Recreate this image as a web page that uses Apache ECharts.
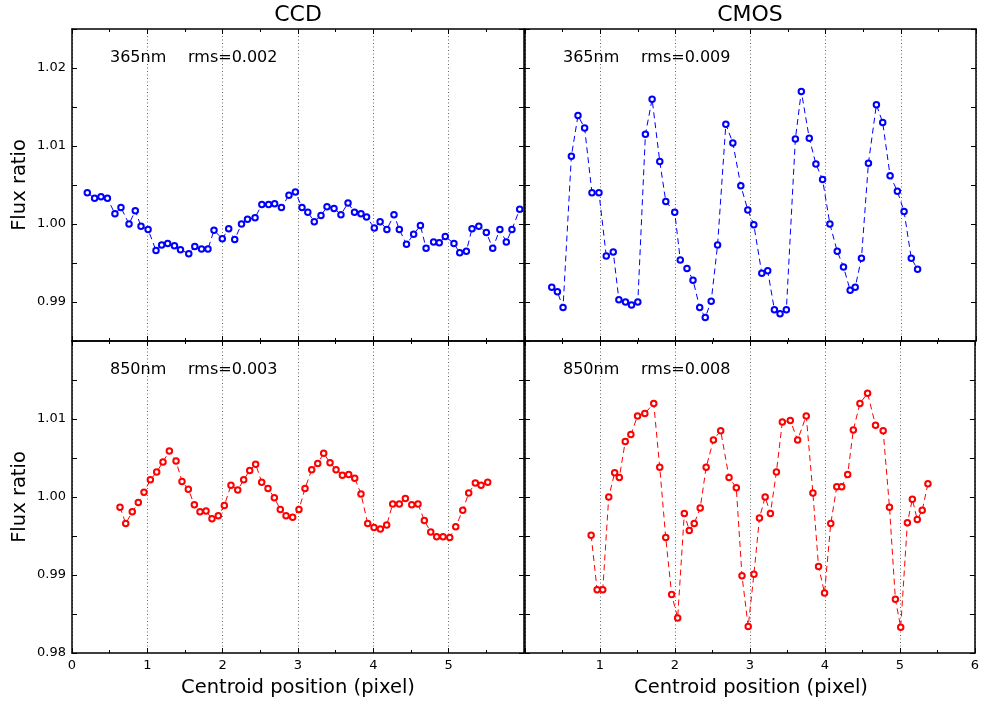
<!DOCTYPE html>
<html>
<head>
<meta charset="utf-8">
<script src="https://cdn.jsdelivr.net/npm/echarts@6/dist/echarts.min.js"></script>
<style>
  html, body { margin: 0; padding: 0; background: #fff; }
  #chart { width: 982px; height: 704px; }
</style>
</head>
<body>
<div id="chart"></div>
<script>
// CCD 365nm
var ccd365X = [0.203,0.30,0.385,0.47,0.57,0.65,0.757,0.84,0.916,1.01,1.115,1.19,1.27,1.36,1.44,1.55,1.63,1.72,1.805,1.885,1.995,2.08,2.16,2.25,2.33,2.43,2.52,2.61,2.69,2.78,2.88,2.965,3.053,3.13,3.216,3.305,3.385,3.478,3.57,3.664,3.75,3.836,3.91,4.013,4.09,4.18,4.274,4.345,4.44,4.535,4.625,4.70,4.80,4.875,4.955,5.07,5.147,5.235,5.31,5.40,5.50,5.585,5.68,5.765,5.84,5.943,6.03];
var ccd365Y = [1.0040,1.0033,1.0035,1.0033,1.0013,1.0021,1.0000,1.0017,0.9997,0.9993,0.9966,0.9973,0.9975,0.9972,0.9967,0.9962,0.9971,0.9968,0.9968,0.9992,0.9981,0.9994,0.9980,1.0000,1.0006,1.0008,1.0025,1.0025,1.0026,1.0021,1.0037,1.0041,1.0021,1.0015,1.0003,1.0011,1.0022,1.0020,1.0012,1.0027,1.0015,1.0013,1.0009,0.9995,1.0003,0.9993,1.0012,0.9993,0.9974,0.9987,0.9998,0.9969,0.9977,0.9976,0.9984,0.9975,0.9963,0.9965,0.9994,0.9997,0.9989,0.9969,0.9993,0.9977,0.9993,1.0019,1.0012];

// CMOS 365nm
var cmos365X = [0.356,0.431,0.506,0.617,0.705,0.793,0.891,0.984,1.081,1.174,1.249,1.337,1.417,1.501,1.602,1.691,1.793,1.873,1.992,2.066,2.155,2.235,2.324,2.398,2.477,2.562,2.672,2.765,2.871,2.964,3.044,3.150,3.229,3.318,3.393,3.477,3.597,3.676,3.782,3.870,3.959,4.056,4.154,4.237,4.326,4.393,4.476,4.569,4.675,4.759,4.857,4.954,5.043,5.139,5.223];
var cmos365Y = [0.9919,0.9913,0.9893,1.0087,1.0139,1.0123,1.0040,1.0040,0.9959,0.9964,0.9903,0.9900,0.9896,0.9900,1.0115,1.0160,1.0080,1.0029,1.0015,0.9954,0.9943,0.9928,0.9893,0.9880,0.9901,0.9973,1.0128,1.0104,1.0049,1.0018,0.9999,0.9937,0.9940,0.9890,0.9885,0.9890,1.0109,1.0170,1.0110,1.0077,1.0057,1.0000,0.9965,0.9945,0.9915,0.9919,0.9956,1.0078,1.0153,1.0130,1.0062,1.0042,1.0016,0.9956,0.9942];

// CCD 850nm
var ccd850X = [0.637,0.713,0.80,0.880,0.956,1.04,1.124,1.208,1.292,1.381,1.46,1.544,1.624,1.699,1.779,1.858,1.942,2.022,2.11,2.2,2.279,2.359,2.438,2.518,2.602,2.686,2.765,2.841,2.929,3.013,3.093,3.182,3.262,3.341,3.425,3.505,3.589,3.673,3.753,3.836,3.925,4.009,4.093,4.177,4.257,4.345,4.425,4.51,4.593,4.677,4.762,4.841,4.925,5.014,5.094,5.187,5.266,5.354,5.43,5.518];
var ccd850Y = [0.9987,0.9966,0.9981,0.9993,1.0006,1.0022,1.0032,1.0045,1.0059,1.0046,1.0020,1.0010,0.9990,0.9981,0.9982,0.9972,0.9976,0.9989,1.0015,1.0009,1.0022,1.0034,1.0042,1.0019,1.0011,0.9999,0.9984,0.9976,0.9974,0.9984,1.0011,1.0035,1.0043,1.0056,1.0044,1.0035,1.0028,1.0029,1.0024,1.0004,0.9966,0.9961,0.9959,0.9964,0.9991,0.9991,0.9998,0.9990,0.9991,0.9970,0.9955,0.9949,0.9949,0.9948,0.9962,0.9983,1.0005,1.0018,1.0015,1.0019];

// CMOS 850nm
var cmos850X = [0.882,0.962,1.037,1.117,1.196,1.258,1.337,1.412,1.501,1.598,1.717,1.797,1.877,1.956,2.036,2.125,2.191,2.257,2.337,2.416,2.513,2.61,2.721,2.818,2.894,2.977,3.053,3.127,3.203,3.273,3.353,3.432,3.538,3.636,3.751,3.84,3.915,3.995,4.078,4.158,4.224,4.304,4.379,4.467,4.569,4.675,4.777,4.861,4.94,5.011,5.1,5.166,5.232,5.298,5.374];
var cmos850Y = [0.9951,0.9881,0.9881,1.0000,1.0031,1.0025,1.0071,1.0080,1.0104,1.0107,1.0120,1.0038,0.9948,0.9875,0.9845,0.9979,0.9957,0.9966,0.9986,1.0038,1.0073,1.0085,1.0025,1.0012,0.9899,0.9834,0.9901,0.9973,1.0000,0.9979,1.0032,1.0096,1.0098,1.0073,1.0104,1.0005,0.9911,0.9877,0.9966,1.0013,1.0013,1.0029,1.0086,1.0120,1.0133,1.0092,1.0085,0.9987,0.9869,0.9833,0.9967,0.9997,0.9971,0.9983,1.0017];

var columnTitles = ['CCD', 'CMOS'];
var waveLabels = ['365nm', '850nm'];
var rmsLabels = [['rms=0.002', 'rms=0.009'], ['rms=0.003', 'rms=0.008']];
var xTitle = 'Centroid position (pixel)';
var yTitle = 'Flux ratio';

var FONT = 'DejaVu Sans';
var BLUE = '#0000ff';
var RED = '#ff0000';

function pairs(xs, ys) {
    return xs.map(function (x, i) { return [x, ys[i]]; });
}

// panel boxes: [left, top, width, height]
var boxes = [
    [72, 29, 452, 312],
    [525, 29, 451, 312],
    [72, 341, 452, 312],
    [525, 341, 451, 312]
];
var yRanges = [[0.985, 1.025], [0.985, 1.025], [0.98, 1.02], [0.98, 1.02]];

var grids = [], xAxes = [], yAxes = [];
boxes.forEach(function (b, i) {
    var isBottom = i >= 2;
    var isLeft = i % 2 === 0;
    grids.push({ left: b[0], top: b[1], width: b[2], height: b[3], containLabel: false });

    var axisLine = { show: true, onZero: false, lineStyle: { color: '#000', width: 1.5 } };
    // bottom x axis (with grid lines)
    xAxes.push({
        type: 'value', gridIndex: i, position: 'bottom', min: 0, max: 6, interval: 1,
        axisLine: axisLine,
        axisTick: { show: true, inside: true, length: 5, lineStyle: { color: '#000' } },
        minorTick: { show: true, splitNumber: 2, length: 3, lineStyle: { color: '#000' } },
        splitLine: { show: true, lineStyle: { type: [1, 2.5], color: '#666', width: 1 } },
        axisLabel: {
            show: isBottom, fontFamily: FONT, fontSize: 13, color: '#000', margin: 6, hideOverlap: false,
            showMinLabel: true, showMaxLabel: true,
            formatter: function (v) {
                if (isLeft && v === 6) return '';
                if (!isLeft && v === 0) return '';
                return String(v);
            }
        }
    });
    // top x axis (ticks only)
    xAxes.push({
        type: 'value', gridIndex: i, position: 'top', min: 0, max: 6, interval: 1,
        axisLine: axisLine,
        axisTick: { show: true, inside: true, length: 5, lineStyle: { color: '#000' } },
        minorTick: { show: true, splitNumber: 2, length: 3, lineStyle: { color: '#000' } },
        splitLine: { show: false },
        axisLabel: { show: false }
    });
    var yr = yRanges[i];
    var yLabelFmt = function (v) {
        var k = Math.round(v * 1000);
        if (k % 10 !== 0) return '';
        if (isBottom && k === 1020) return '';
        return (k / 1000).toFixed(2);
    };
    yAxes.push({
        type: 'value', gridIndex: i, position: 'left', min: yr[0], max: yr[1], interval: 0.005,
        axisLine: axisLine,
        axisTick: { show: true, inside: true, length: 5, lineStyle: { color: '#000' } },
        splitLine: { show: false },
        axisLabel: {
            show: isLeft, fontFamily: FONT, fontSize: 13, color: '#000', margin: 6,
            hideOverlap: false, showMinLabel: true, showMaxLabel: true, formatter: yLabelFmt
        }
    });
    yAxes.push({
        type: 'value', gridIndex: i, position: 'right', min: yr[0], max: yr[1], interval: 0.005,
        axisLine: axisLine,
        axisTick: { show: true, inside: true, length: 5, lineStyle: { color: '#000' } },
        splitLine: { show: false },
        axisLabel: { show: false }
    });
});

function makeSeries(name, data, panel, color) {
    return {
        name: name, type: 'line', data: data,
        xAxisIndex: panel * 2, yAxisIndex: panel * 2,
        clip: true,
        symbol: 'emptyCircle', symbolSize: 5.5,
        itemStyle: { color: color, borderColor: color, borderWidth: 1 },
        lineStyle: { color: color, width: 1, type: [6, 4] },
        emphasis: { disabled: true },
        animation: false
    };
}

var series = [
    makeSeries('CCD 365nm', pairs(ccd365X, ccd365Y), 0, BLUE),
    makeSeries('CMOS 365nm', pairs(cmos365X, cmos365Y), 1, BLUE),
    makeSeries('CCD 850nm', pairs(ccd850X, ccd850Y), 2, RED),
    makeSeries('CMOS 850nm', pairs(cmos850X, cmos850Y), 3, RED)
];

// text: titles, panel notes, axis titles
var texts = [];
function addText(str, x, y, size, align, rot) {
    texts.push({
        type: 'text', x: x, y: y, rotation: rot || 0, z: 100,
        style: { text: str, fontFamily: FONT, fontSize: size, fill: '#000', align: align || 'center', verticalAlign: 'middle' }
    });
}
addText(columnTitles[0], 298, 15, 22);
addText(columnTitles[1], 750, 15, 22);
boxes.forEach(function (b, i) {
    var row = i >= 2 ? 1 : 0, col = i % 2;
    var y = b[1] + 29;
    addText(waveLabels[row], b[0] + 38, y, 16, 'left');
    addText(rmsLabels[row][col], b[0] + 116, y, 16, 'left');
});
addText(xTitle, 298, 688, 19.5);
addText(xTitle, 751, 688, 19.5);
addText(yTitle, 20, 185, 19.5, 'center', Math.PI / 2);
addText(yTitle, 20, 497, 19.5, 'center', Math.PI / 2);

var myChart = echarts.init(document.getElementById('chart'));
var option = {
    backgroundColor: '#fff',
    animation: false,
    grid: grids,
    xAxis: xAxes,
    yAxis: yAxes,
    series: series,
    graphic: texts
};
myChart.setOption(option);
</script>
</body>
</html>
